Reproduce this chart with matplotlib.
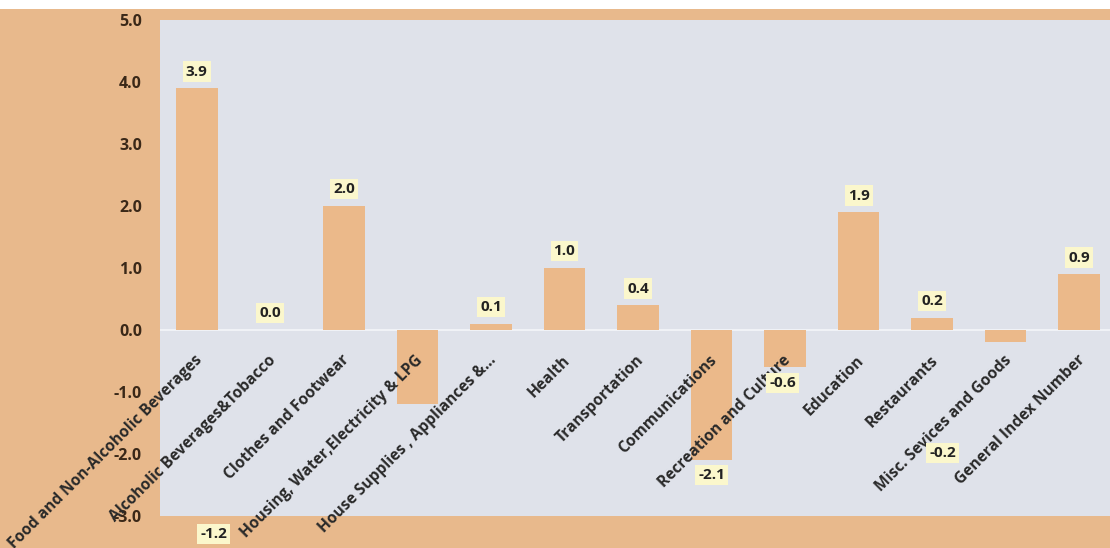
import matplotlib
matplotlib.use('Agg')
import matplotlib.pyplot as plt
from matplotlib.patches import Rectangle

plt.rcParams['font.family'] = ['Open Sans', 'DejaVu Sans']

categories = ['Food and Non-Alcoholic Beverages', 'Alcoholic Beverages&Tobacco',
              'Clothes and Footwear', 'Housing, Water,Electricity & LPG',
              'House Supplies , Appliances &...', 'Health', 'Transportation',
              'Communications', 'Recreation and Culture', 'Education',
              'Restaurants', 'Misc. Sevices and Goods', 'General Index Number']
values = [3.9, 0.0, 2.0, -1.2, 0.1, 1.0, 0.4, -2.1, -0.6, 1.9, 0.2, -0.2, 0.9]
yticks = [-3, -2, -1, 0, 1, 2, 3, 4, 5]

# hand-placed labels (as in the original sheet), keyed by category index
manual_labels = {3: (0.23, -3.29), 7: (7.0, -2.34), 8: (7.97, -0.85), 11: (10.14, -1.98)}

tan = '#E8B98C'
bar_col = '#EBB98A'

fig = plt.figure(figsize=(11.1, 5.48), dpi=100, facecolor='white')
fig.patches.append(Rectangle((0, 0), 1, 539 / 548, transform=fig.transFigure,
                             facecolor=tan, edgecolor='none', zorder=-10))

ax = fig.add_axes([160 / 1110, 32 / 548, 956 / 1110, 496 / 548])
ax.set_facecolor('#DFE2EA')
ax.bar(range(len(values)), values, width=0.565, color=bar_col, zorder=2)
ax.axhline(0, color='#F0F2F6', lw=1.5, zorder=1)

ax.set_xlim(-0.5, 12.5)
ax.set_ylim(-3, 5)
ax.set_yticks(yticks)
ax.set_yticklabels(['%.1f' % t for t in yticks], fontsize=11.5, fontweight='bold',
                   color='#3A2818')
ax.tick_params(axis='y', length=0, pad=13)
ax.set_xticks([])
for s in ax.spines.values():
    s.set_visible(False)

box = dict(boxstyle='square,pad=0.2', facecolor='#FBF7CC', edgecolor='none')
for i, v in enumerate(values):
    if i in manual_labels:
        x, y = manual_labels[i]
        ax.text(x, y, '%.1f' % v, ha='center', va='center', fontsize=11,
                fontweight='bold', color='#222222', bbox=box, clip_on=False, zorder=5)
    else:
        ax.annotate('%.1f' % v, xy=(i, v), xytext=(0, 12), textcoords='offset points',
                    ha='center', va='center', fontsize=11, fontweight='bold',
                    color='#222222', bbox=box, zorder=5)

for i, c in enumerate(categories):
    ax.text(i - 0.03, -0.36, c, rotation=45, rotation_mode='anchor', ha='right',
            va='top', fontsize=11.2, fontweight='bold', color='#2A2A2A',
            clip_on=False, zorder=4)

fig.savefig('out.png', dpi=100, facecolor=fig.get_facecolor())
